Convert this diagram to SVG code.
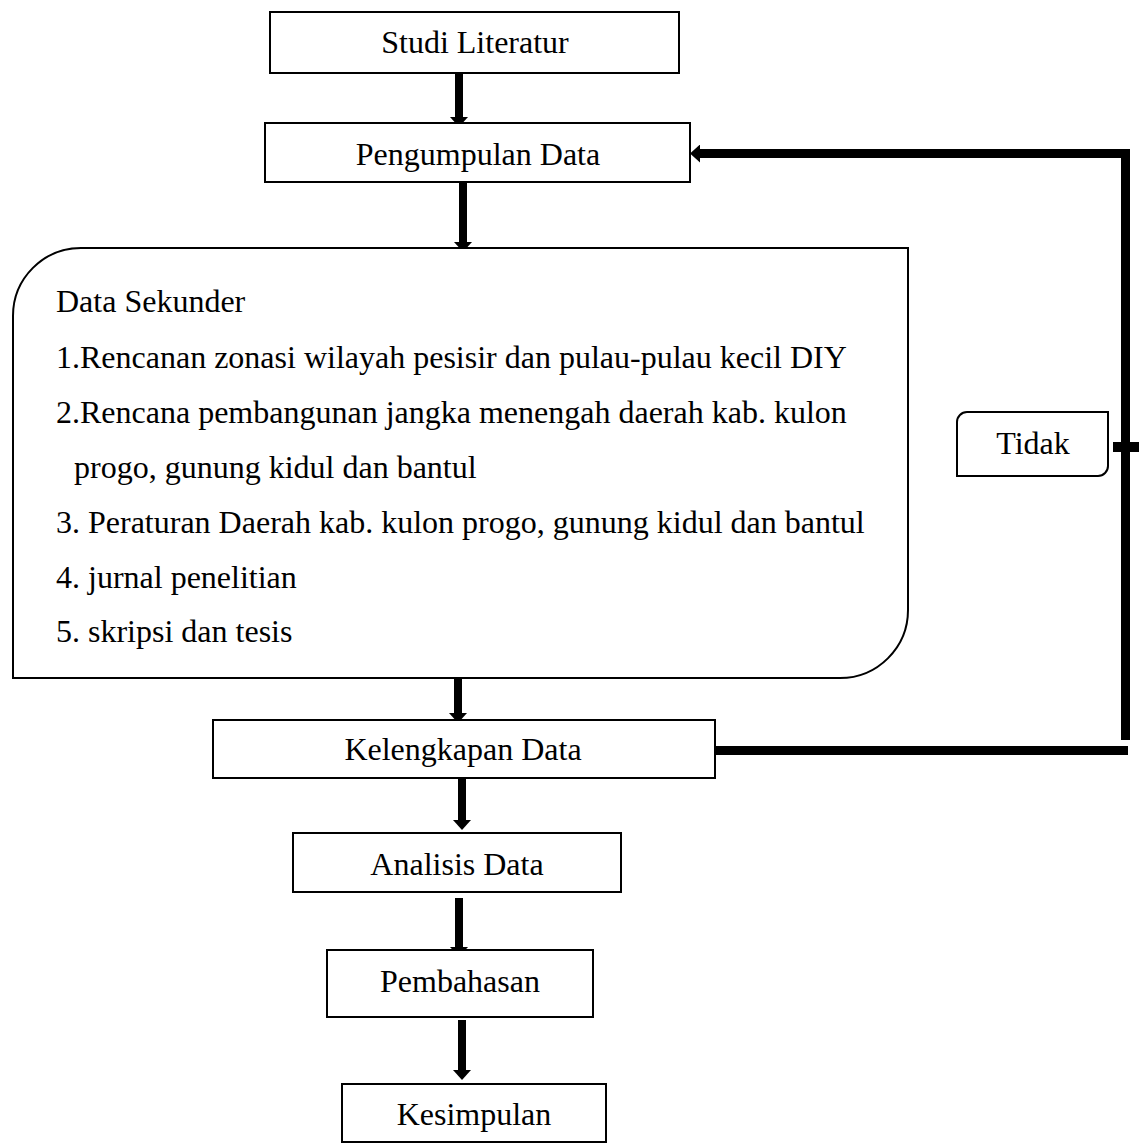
<svg xmlns="http://www.w3.org/2000/svg" width="1139" height="1146" viewBox="0 0 1139 1146">
<defs>
<style>
.box{fill:#fff;stroke:#000;stroke-width:2}
.t{font-family:"Liberation Serif","Times New Roman",serif;font-size:32px;fill:#000}
.c{text-anchor:middle}
.conn{stroke:#000;stroke-width:8;fill:none}
.thick{stroke:#000;stroke-width:9;fill:none}
</style>
<marker id="ah" markerUnits="userSpaceOnUse" viewBox="0 0 10 18" refX="1" refY="9" markerWidth="10" markerHeight="18" orient="auto">
<path d="M0,0 L10,9 L0,18 Z" fill="#000"/>
</marker>
</defs>
<rect width="1139" height="1146" fill="#fff"/>

<g id="connectors">
<line class="conn" x1="459" y1="73" x2="459" y2="118" marker-end="url(#ah)"/>
<line class="conn" x1="463" y1="183" x2="463" y2="243" marker-end="url(#ah)"/>
<line class="conn" x1="458" y1="663" x2="458" y2="714" marker-end="url(#ah)"/>
<line class="conn" x1="462" y1="776" x2="462" y2="821" marker-end="url(#ah)"/>
<line class="conn" x1="459" y1="898" x2="459" y2="948" marker-end="url(#ah)"/>
<line class="conn" x1="462" y1="1020" x2="462" y2="1071" marker-end="url(#ah)"/>
<line class="thick" x1="715" y1="750.5" x2="1128" y2="750.5"/>
<line class="thick" x1="1125.5" y1="740" x2="1125.5" y2="149"/>
<line class="thick" x1="1125" y1="153.5" x2="699" y2="153.5" marker-end="url(#ah)"/>
<rect x="1113" y="442" width="26" height="10" fill="#000"/>
</g>

<g id="node-studi">
<rect class="box" x="270" y="12" width="409" height="61"/>
<text class="t c" x="475" y="53">Studi Literatur</text>
</g>

<g id="node-pengumpulan">
<rect class="box" x="265" y="123" width="425" height="59"/>
<text class="t c" x="478" y="165">Pengumpulan Data</text>
</g>

<g id="node-sekunder">
<path class="box" d="M13,316 A68,68 0 0 1 81,248 L908,248 L908,610 A68,68 0 0 1 840,678 L13,678 Z"/>
<text class="t" x="56" y="312">Data Sekunder</text>
<text class="t" x="56" y="368">1.Rencanan zonasi wilayah pesisir dan pulau-pulau kecil DIY</text>
<text class="t" x="56" y="423">2.Rencana pembangunan jangka menengah daerah kab. kulon</text>
<text class="t" x="74" y="478">progo, gunung kidul dan bantul</text>
<text class="t" x="56" y="533">3. Peraturan Daerah kab. kulon progo, gunung kidul dan bantul</text>
<text class="t" x="56" y="588">4. jurnal penelitian</text>
<text class="t" x="56" y="642">5. skripsi dan tesis</text>
</g>

<g id="node-tidak">
<path class="box" d="M957,422 A10,10 0 0 1 967,412 H1108 V466 A10,10 0 0 1 1098,476 H957 Z"/>
<text class="t c" x="1033" y="454">Tidak</text>
</g>

<g id="node-kelengkapan">
<rect class="box" x="213" y="720" width="502" height="58"/>
<text class="t c" x="463" y="760">Kelengkapan Data</text>
</g>

<g id="node-analisis">
<rect class="box" x="293" y="833" width="328" height="59"/>
<text class="t c" x="457" y="875">Analisis Data</text>
</g>

<g id="node-pembahasan">
<rect class="box" x="327" y="950" width="266" height="67"/>
<text class="t c" x="460" y="992">Pembahasan</text>
</g>

<g id="node-kesimpulan">
<rect class="box" x="342" y="1084" width="264" height="58"/>
<text class="t c" x="474" y="1125">Kesimpulan</text>
</g>
</svg>
